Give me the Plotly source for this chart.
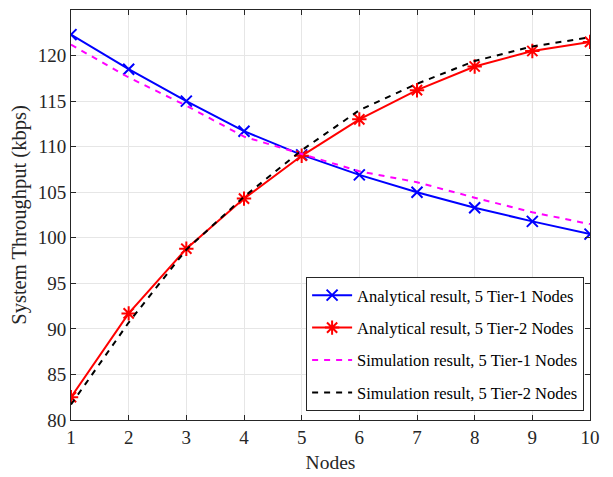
import plotly.graph_objects as go

nodes = [1, 2, 3, 4, 5, 6, 7, 8, 9, 10]
ana_tier1 = [122.3, 118.5, 115.0, 111.7, 109.1, 106.9, 105.0, 103.3, 101.8, 100.4]
ana_tier2 = [82.5, 91.7, 98.8, 104.3, 109.0, 113.0, 116.2, 118.8, 120.5, 121.5]
sim_tier1 = [121.2, 117.6, 114.5, 111.1, 109.2, 107.3, 106.1, 104.4, 102.8, 101.5]
sim_tier2 = [81.7, 90.7, 98.7, 104.5, 109.6, 114.0, 116.9, 119.4, 121.0, 122.0]

names = [
    "Analytical result, 5 Tier-1 Nodes",
    "Analytical result, 5 Tier-2 Nodes",
    "Simulation result, 5 Tier-1 Nodes",
    "Simulation result, 5 Tier-2 Nodes",
]

fig = go.Figure()
fig.add_trace(go.Scatter(x=nodes, y=ana_tier1, name=names[0], mode="lines+markers",
                         line=dict(color="#0000ff", width=2),
                         marker=dict(symbol="x-thin-open", size=11, line=dict(color="#0000ff", width=2)),
                         legendgroup="a"))
fig.add_trace(go.Scatter(x=nodes, y=ana_tier2, name=names[1], mode="lines+markers",
                         line=dict(color="#ff0000", width=2),
                         marker=dict(symbol="asterisk-open", size=12, line=dict(color="#ff0000", width=2)),
                         legendgroup="b"))
fig.add_trace(go.Scatter(x=nodes, y=sim_tier1, name=names[2], mode="lines",
                         line=dict(color="#ff00ff", width=2, dash="6px,6px"),
                         legendgroup="c"))
fig.add_trace(go.Scatter(x=nodes, y=sim_tier2, name=names[3], mode="lines",
                         line=dict(color="#000000", width=2, dash="6px,6px"),
                         legendgroup="d"))

axis_common = dict(
    showgrid=True, gridcolor="#e6e6e6", gridwidth=1,
    showline=True, linecolor="#262626", linewidth=1, mirror="ticks",
    ticks="inside", ticklen=5, tickcolor="#262626",
    tickfont=dict(family="Liberation Serif", size=19, color="#262626"),
    zeroline=False, automargin=False,
)

fig.update_layout(
    width=605, height=469,
    margin=dict(l=63, r=23, t=2, b=57),
    paper_bgcolor="white", plot_bgcolor="white",
    font=dict(family="Liberation Serif", color="#262626"),
    xaxis=dict(range=[1, 10], tickvals=nodes, title=dict(text="Nodes", font=dict(size=19.5), standoff=8),
               **axis_common),
    yaxis=dict(range=[80, 125], dtick=5, title=dict(text="System Throughput (kbps)", font=dict(size=20.5), standoff=5),
               **axis_common),
    legend=dict(x=0.453, y=0.349, xanchor="left", yanchor="top",
                bgcolor="white", bordercolor="#262626", borderwidth=1,
                font=dict(family="Liberation Serif", size=16.5, color="#000000"),
                traceorder="grouped", tracegroupgap=8, itemwidth=40),
)

fig.write_html("out.html")
